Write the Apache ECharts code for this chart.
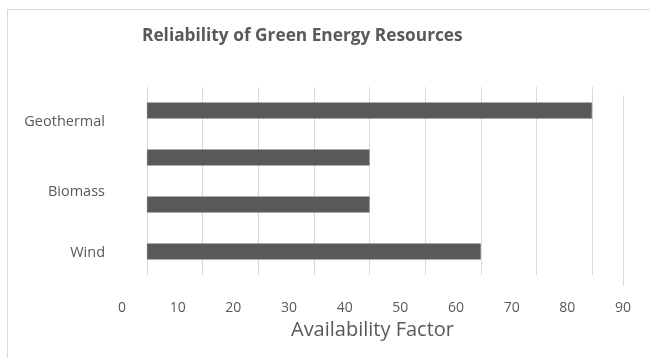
<!DOCTYPE html>
<html>
<head>
<meta charset="utf-8">
<script src="https://cdn.jsdelivr.net/npm/echarts@6/dist/echarts.min.js"></script>
<style>
  html, body { margin: 0; padding: 0; background: #fff; overflow: hidden; }
  #frame { position: absolute; left: 7px; top: 9px; width: 700px; height: 400px; border: 1px solid #d9d9d9; }
  #chart { position: absolute; left: 0; top: 0; width: 650px; height: 358px; }
</style>
</head>
<body>
<div id="frame"></div>
<div id="chart"></div>
<script>
// Categories, top to bottom (second bar has no visible label in the source)
const categories = ['Geothermal', '', 'Biomass', 'Wind'];
const availability = [80, 40, 40, 60];
const tickValues = [0, 10, 20, 30, 40, 50, 60, 70, 80, 90];
const titleText = 'Reliability of Green Energy Resources';
const axisTitle = 'Availability Factor';

const FONT = '"Open Sans", "Noto Sans", sans-serif';
const GREY = '#595959';
const LINE = '#d9d9d9';

const labelKey = { 'Geothermal': 'geo', 'Biomass': 'bio', 'Wind': 'wind' };

const chart = echarts.init(document.getElementById('chart'), null, { renderer: 'canvas' });
chart.setOption({
  animation: false,
  backgroundColor: 'transparent',
  title: {
    text: titleText,
    left: 137,
    top: 23,
    textStyle: { fontFamily: FONT, fontSize: 17.3, fontWeight: 'bold', color: GREY }
  },
  grid: [
    { left: 147, right: 58, top: 87, bottom: 83, containLabel: false },
    { left: 122, right: 27, top: 96, bottom: 73, containLabel: false }
  ],
  xAxis: [
    {
      gridIndex: 0, type: 'value', min: 0, max: 80, interval: 10,
      axisLabel: { show: false }, axisTick: { show: false }, axisLine: { show: false },
      splitLine: { show: true, lineStyle: { color: LINE, width: 1 } }
    },
    {
      gridIndex: 1, type: 'value', min: tickValues[0], max: tickValues[tickValues.length - 1], interval: 10,
      axisLabel: { show: true, margin: 16, fontFamily: FONT, fontSize: 14, color: GREY },
      axisTick: { show: false }, axisLine: { show: false }, splitLine: { show: false },
      name: axisTitle, nameLocation: 'middle', nameGap: 34,
      nameTextStyle: { fontFamily: FONT, fontSize: 20, color: GREY }
    }
  ],
  yAxis: [
    {
      gridIndex: 0, type: 'category', data: categories, inverse: true,
      axisLine: { show: false }, axisTick: { show: false }, splitLine: { show: false },
      axisLabel: {
        margin: 42, fontFamily: FONT, fontSize: 14.5, color: GREY,
        formatter: function (v) {
          const k = labelKey[v];
          return k ? '{' + k + '|' + v + '}' : '';
        },
        rich: {
          geo: { fontFamily: FONT, fontSize: 14.5, color: GREY, padding: [22, 0, 0, 0] },
          bio: { fontFamily: FONT, fontSize: 14.5, color: GREY, padding: [0, 0, 25, 0] },
          wind: { fontFamily: FONT, fontSize: 14.5, color: GREY, padding: [2, 0, 0, 0] }
        }
      }
    },
    {
      gridIndex: 1, type: 'value', position: 'right',
      axisLine: { show: true, onZero: false, lineStyle: { color: LINE, width: 1 } },
      axisTick: { show: false }, axisLabel: { show: false }, splitLine: { show: false }
    }
  ],
  series: [
    {
      type: 'bar', xAxisIndex: 0, yAxisIndex: 0,
      data: availability,
      barWidth: 16,
      itemStyle: { color: GREY, borderColor: '#6a6a6a', borderWidth: 0.5 }
    }
  ]
});
</script>
</body>
</html>
